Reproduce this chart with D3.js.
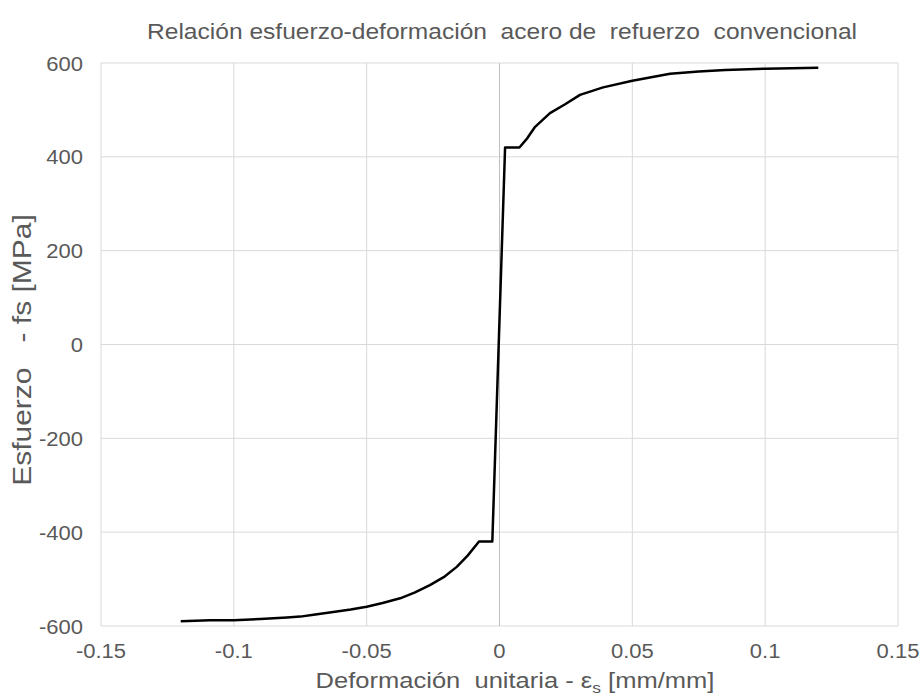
<!DOCTYPE html>
<html>
<head>
<meta charset="utf-8">
<script src="https://cdn.jsdelivr.net/npm/d3@7"></script>
<style>
  body { margin: 0; background: #fff; }
  text { font-family: "Liberation Sans", Arial, sans-serif; fill: #595959; white-space: pre; }
</style>
</head>
<body>
<script>
// strain [mm/mm] and stress [MPa]
const strain = [-0.12, -0.109, -0.1, -0.09, -0.08, -0.075, -0.07, -0.0626, -0.056, -0.05, -0.044, -0.0374, -0.032, -0.0262, -0.021, -0.0161, -0.012, -0.0077, -0.0027,
  0.0021, 0.0075, 0.0105, 0.0134, 0.019, 0.0247, 0.0303, 0.039, 0.05, 0.0642, 0.075, 0.085, 0.1, 0.12];
const stress = [-590, -588, -588, -585, -582, -580, -576, -570, -565, -559, -551, -541, -529, -513, -496, -474, -450, -420, -420,
  420, 420, 440, 464, 493, 512, 532, 548, 562, 577, 582, 585, 588, 590];
const xTicks = [-0.15, -0.1, -0.05, 0, 0.05, 0.1, 0.15];
const yTicks = [-600, -400, -200, 0, 200, 400, 600];

const width = 923, height = 696;
const margin = { left: 101, right: 25, top: 63, bottom: 70 };

const svg = d3.select("body").append("svg")
  .attr("width", width)
  .attr("height", height);

const x = d3.scaleLinear().domain([-0.15, 0.15]).range([margin.left, width - margin.right]);
const y = d3.scaleLinear().domain([-600, 600]).range([height - margin.bottom, margin.top]);

// the reference text runs a bit wider than Liberation Sans
function widen(sel, k) {
  sel.each(function () {
    const w = this.getComputedTextLength();
    d3.select(this).attr("textLength", w * k).attr("lengthAdjust", "spacingAndGlyphs");
  });
}

// grid
svg.append("g").selectAll("line").data(yTicks).enter().append("line")
  .attr("x1", x(-0.15)).attr("x2", x(0.15))
  .attr("y1", d => y(d)).attr("y2", d => y(d))
  .attr("stroke", "#d9d9d9").attr("stroke-width", 1);
svg.append("g").selectAll("line").data(xTicks).enter().append("line")
  .attr("y1", y(-600)).attr("y2", y(600))
  .attr("x1", d => x(d)).attr("x2", d => x(d))
  .attr("stroke", d => d === 0 ? "#bfbfbf" : "#d9d9d9").attr("stroke-width", 1);

// tick labels
const yl = svg.append("g").selectAll("text").data(yTicks).enter().append("text")
  .attr("x", x(-0.15) - 18).attr("y", d => y(d) + 7.5)
  .attr("text-anchor", "end").attr("font-size", "20px")
  .text(d => d);
widen(yl, 1.1);
const xl = svg.append("g").selectAll("text").data(xTicks).enter().append("text")
  .attr("x", d => x(d)).attr("y", y(-600) + 32)
  .attr("text-anchor", "middle").attr("font-size", "20px")
  .text(d => d);
widen(xl, 1.1);

// curve
const pts = strain.map((s, i) => [s, stress[i]]);
svg.append("path")
  .datum(pts)
  .attr("fill", "none")
  .attr("stroke", "#000")
  .attr("stroke-width", 2.5)
  .attr("stroke-linejoin", "round")
  .attr("d", d3.line().x(d => x(d[0])).y(d => y(d[1])));

// titles
svg.append("text")
  .attr("x", 502).attr("y", 39)
  .attr("text-anchor", "middle").attr("font-size", "22px")
  .attr("textLength", 710).attr("lengthAdjust", "spacingAndGlyphs")
  .text("Relación esfuerzo-deformación  acero de  refuerzo  convencional");

const xt = svg.append("text")
  .attr("x", 515).attr("y", 688)
  .attr("text-anchor", "middle").attr("font-size", "22px");
xt.append("tspan").text("Deformación  unitaria - ε");
xt.append("tspan").attr("font-size", "15px").attr("dy", 5).text("s");
xt.append("tspan").attr("dy", -5).text(" [mm/mm]");
widen(xt, 1.16);

const yt = svg.append("text")
  .attr("transform", "translate(31,350) rotate(-90)")
  .attr("text-anchor", "middle").attr("font-size", "25px")
  .text("Esfuerzo   - fs [MPa]");
widen(yt, 1.2);
</script>
</body>
</html>
